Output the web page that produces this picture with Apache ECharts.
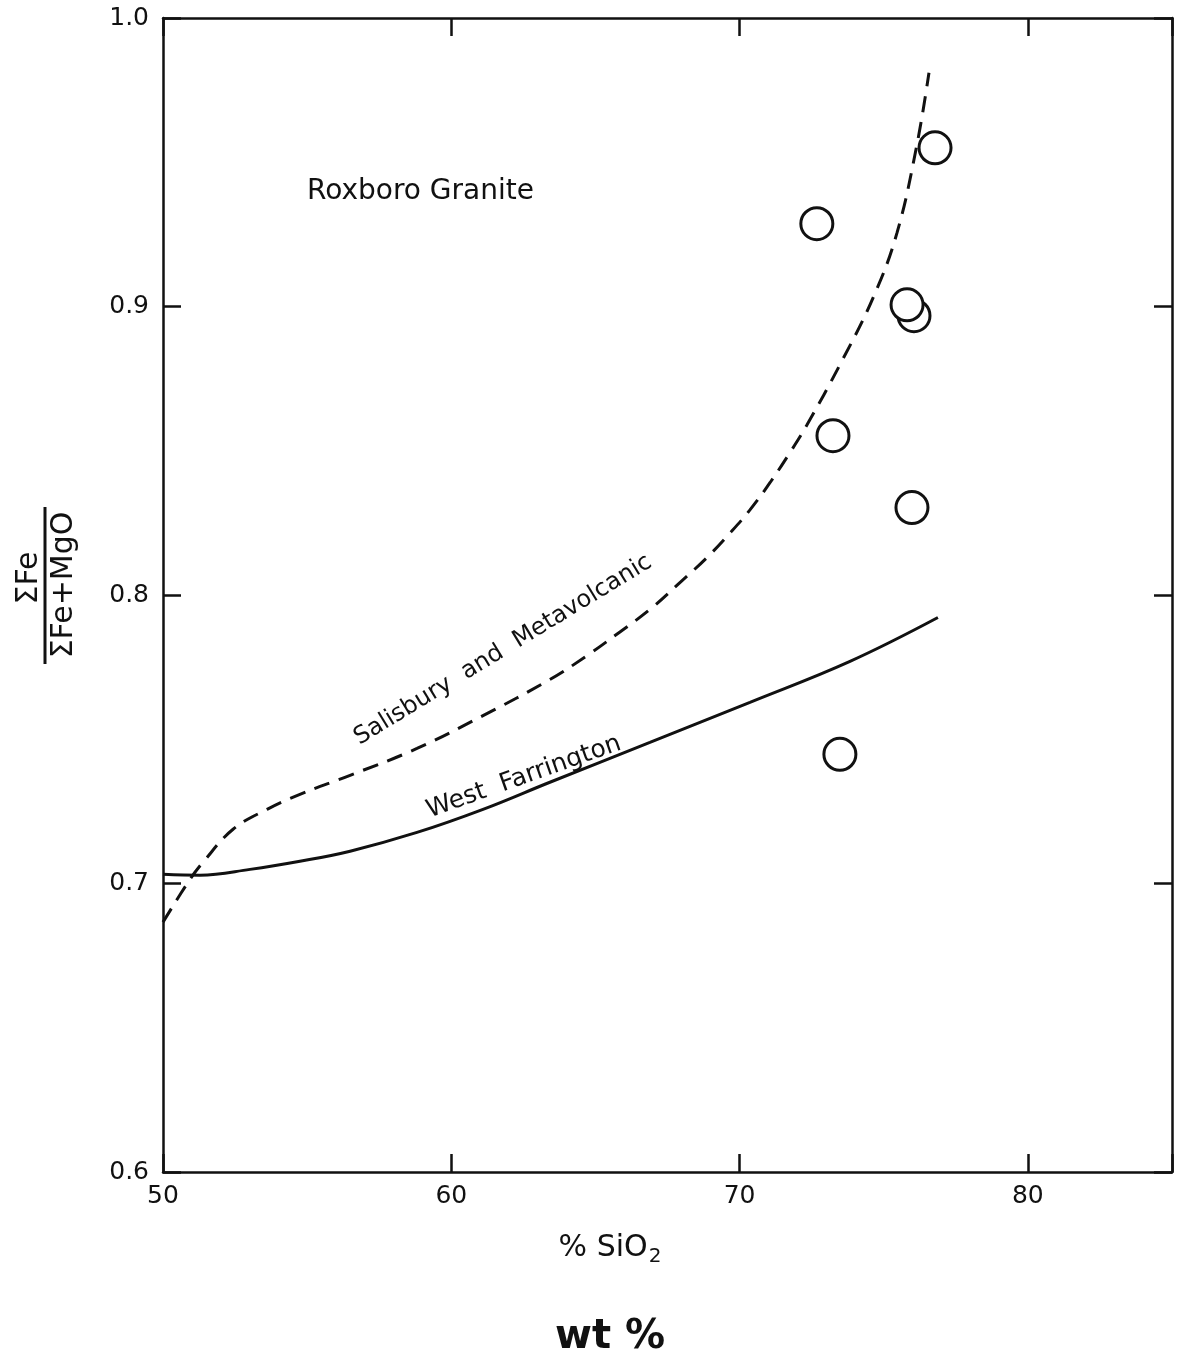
<!DOCTYPE html>
<html>
<head>
    <meta charset="utf-8">
    <title>Roxboro Granite</title>
    <script src="https://cdn.jsdelivr.net/npm/echarts@6/dist/echarts.min.js"></script>
    <style>
        html, body { margin: 0; padding: 0; background: #fff; }
    </style>
</head>
<body>
    <div id="main" style="width: 1183px;height:1366px;"></div>
    <script type="text/javascript">
        // x ticks and y ticks
        var xTicks = [50, 60, 70, 80];
        var yTicks = [0.6, 0.7, 0.8, 0.9, 1.0];

        // Salisbury and Metavolcanic trend (dashed)
        var salisburySiO2 = [50.0, 50.94, 51.39, 52.43, 53.61, 54.75, 56.49, 58.81, 61.10, 63.42, 64.71, 65.85,
            66.89, 67.93, 68.87, 69.67, 70.36, 71.06, 71.75, 72.34, 73.48, 74.63, 75.46, 76.15, 76.57];
        var salisburyRatio = [0.6866, 0.7015, 0.7074, 0.7188, 0.7257, 0.7309, 0.7375, 0.7468, 0.7582, 0.7707, 0.7790, 0.7872,
            0.7950, 0.8043, 0.8130, 0.8215, 0.8295, 0.8390, 0.8494, 0.8590, 0.8798, 0.9030, 0.9255, 0.9560, 0.9810];

        // West Farrington trend (solid)
        var farringtonSiO2 = [50.0, 51.28, 53.02, 54.75, 56.49, 58.81, 61.10, 63.42, 66.89, 70.36, 73.83, 76.88];
        var farringtonRatio = [0.7032, 0.7029, 0.7049, 0.7077, 0.7112, 0.7177, 0.7257, 0.7351, 0.7489, 0.7628, 0.7770, 0.7922];

        // Roxboro Granite samples (open circles)
        var graniteSiO2 = [76.78, 72.68, 76.05, 75.81, 73.24, 75.98, 73.48];
        var graniteRatio = [0.955, 0.9287, 0.8968, 0.9006, 0.8552, 0.8303, 0.7448];

        function pairs(xs, ys) {
            return xs.map(function (v, i) { return [v, ys[i]]; });
        }

        var font = 'DejaVu Sans';
        var ink = '#111';
        var myChart = echarts.init(document.getElementById('main'));

        var axisLine = {show: true, lineStyle: {color: ink, width: 2.5}};
        var tick = {show: true, inside: true, length: 18, lineStyle: {color: ink, width: 2.5}};

        var option = {
            animation: false,
            backgroundColor: '#fff',
            grid: {left: 163, right: 11, top: 18, bottom: 194},
            xAxis: [
                {
                    type: 'value', min: 50, max: 85, interval: 10, position: 'bottom',
                    axisLine: axisLine, axisTick: tick, splitLine: {show: false},
                    axisLabel: {
                        color: ink, fontFamily: font, fontSize: 25, margin: 12,
                        formatter: function (v) { return xTicks.indexOf(v) >= 0 ? String(v) : ''; }
                    }
                },
                {
                    type: 'value', min: 50, max: 85, interval: 10, position: 'top',
                    axisLine: axisLine, axisTick: tick, splitLine: {show: false},
                    axisLabel: {show: false}
                }
            ],
            yAxis: [
                {
                    type: 'value', min: 0.6, max: 1.0, interval: 0.1, position: 'left',
                    axisLine: axisLine, axisTick: tick, splitLine: {show: false},
                    axisLabel: {
                        color: ink, fontFamily: font, fontSize: 25, margin: 14,
                        formatter: function (v) {
                            var t = yTicks.find(function (y) { return Math.abs(y - v) < 1e-6; });
                            return t === undefined ? '' : t.toFixed(1);
                        }
                    }
                },
                {
                    type: 'value', min: 0.6, max: 1.0, interval: 0.1, position: 'right',
                    axisLine: axisLine, axisTick: tick, splitLine: {show: false},
                    axisLabel: {show: false}
                }
            ],
            series: [
                {
                    name: 'Salisbury and Metavolcanic',
                    type: 'line',
                    data: pairs(salisburySiO2, salisburyRatio),
                    smooth: 0.4,
                    showSymbol: false,
                    lineStyle: {color: ink, width: 3, type: [16, 10]},
                    z: 2
                },
                {
                    name: 'West Farrington',
                    type: 'line',
                    data: pairs(farringtonSiO2, farringtonRatio),
                    smooth: 0.4,
                    showSymbol: false,
                    lineStyle: {color: ink, width: 3},
                    z: 2
                },
                {
                    name: 'Roxboro Granite',
                    type: 'scatter',
                    data: pairs(graniteSiO2, graniteRatio),
                    symbol: 'circle',
                    symbolSize: 32,
                    itemStyle: {color: '#fff', borderColor: ink, borderWidth: 3, opacity: 1},
                    z: 3
                }
            ],
            graphic: [
                {
                    type: 'text', left: 307, top: 178,
                    style: {text: 'Roxboro Granite', fontFamily: font, fontSize: 28, fill: ink}
                },
                {
                    type: 'text', x: 503, y: 650, rotation: 31.4 * Math.PI / 180,
                    style: {
                        text: 'Salisbury  and  Metavolcanic', fontFamily: font, fontSize: 24, fill: ink,
                        align: 'center', verticalAlign: 'middle'
                    }
                },
                {
                    type: 'text', x: 524, y: 777, rotation: 19.6 * Math.PI / 180,
                    style: {
                        text: 'West  Farrington', fontFamily: font, fontSize: 25, fill: ink,
                        align: 'center', verticalAlign: 'middle'
                    }
                },
                // y axis name: fraction, rotated
                {
                    type: 'text', x: 29, y: 578, rotation: Math.PI / 2,
                    style: {
                        text: 'ΣFe', fontFamily: font, fontSize: 30, fill: ink,
                        align: 'center', verticalAlign: 'middle'
                    }
                },
                {
                    type: 'line',
                    shape: {x1: 45, y1: 507, x2: 45, y2: 664},
                    style: {stroke: ink, lineWidth: 3}
                },
                {
                    type: 'text', x: 64, y: 585, rotation: Math.PI / 2,
                    style: {
                        text: 'ΣFe+MgO', fontFamily: font, fontSize: 30, fill: ink,
                        align: 'center', verticalAlign: 'middle'
                    }
                },
                // x axis name
                {
                    type: 'text', x: 610, y: 1248,
                    style: {
                        text: '{a|% SiO}{b|2}', fontFamily: font, fill: ink,
                        align: 'center', verticalAlign: 'middle',
                        rich: {
                            a: {fontFamily: font, fontSize: 30, fill: ink},
                            b: {fontFamily: font, fontSize: 20, fill: ink, padding: [18, 0, 0, 1]}
                        }
                    }
                },
                {
                    type: 'text', x: 610, y: 1338,
                    style: {
                        text: 'wt %', fontFamily: font, fontSize: 40, fontWeight: 'bold', fill: ink,
                        align: 'center', verticalAlign: 'middle'
                    }
                }
            ]
        };

        myChart.setOption(option);
    </script>
</body>
</html>
